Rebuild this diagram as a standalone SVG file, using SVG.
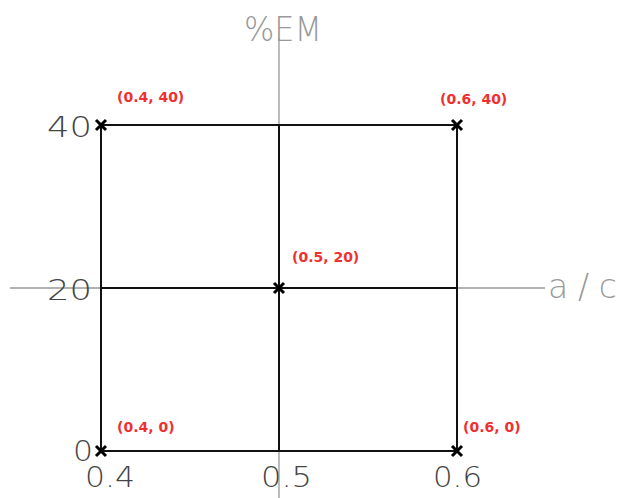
<svg xmlns="http://www.w3.org/2000/svg" width="620" height="498" viewBox="0 0 620 498">
<style>
.axis{stroke:#999;stroke-width:1.3;fill:none}
.grid{stroke:#111;stroke-width:2;fill:none}
.mk{stroke:#000;stroke-width:3;fill:none}
.ax{font-family:"DejaVu Sans",sans-serif;font-size:33px;fill:#999;font-weight:200}
.num{font-family:"DejaVu Sans",sans-serif;font-size:28px;fill:#444;font-weight:200}
.pt{font-family:"DejaVu Sans",sans-serif;font-size:14px;fill:#f03030;font-weight:bold}
</style>
<rect width="620" height="498" fill="#fff"/>
<g id="axes">
<line class="axis" x1="279" y1="38" x2="279" y2="498"/>
<line class="axis" x1="10" y1="288" x2="545" y2="288"/>
</g>
<g id="connectors">
<rect class="grid" x="101" y="125" width="356" height="326"/>
<line class="grid" x1="279" y1="125" x2="279" y2="451"/>
<line class="grid" x1="101" y1="288" x2="457" y2="288"/>
</g>
<g id="marks">
<path class="mk" d="M96 120l10 10M106 120l-10 10"/>
<path class="mk" d="M452 120l10 10M462 120l-10 10"/>
<path class="mk" d="M274 283l10 10M284 283l-10 10"/>
<path class="mk" d="M96 446l10 10M106 446l-10 10"/>
<path class="mk" d="M452 446l10 10M462 446l-10 10"/>
</g>
<g id="axis-labels">
<text class="ax" x="244" y="41" textLength="78" lengthAdjust="spacingAndGlyphs">%EM</text>
<text class="ax" x="548" y="298" textLength="69" lengthAdjust="spacing">a/c</text>
<text class="num" x="47" y="137" textLength="45" lengthAdjust="spacingAndGlyphs">40</text>
<text class="num" x="47" y="300" textLength="45" lengthAdjust="spacingAndGlyphs">20</text>
<text class="num" x="73" y="461" textLength="20" lengthAdjust="spacingAndGlyphs">0</text>
<text class="num" x="85" y="487" textLength="50" lengthAdjust="spacingAndGlyphs">0.4</text>
<text class="num" x="261" y="487" textLength="51" lengthAdjust="spacingAndGlyphs">0.5</text>
<text class="num" x="433" y="487" textLength="49" lengthAdjust="spacingAndGlyphs">0.6</text>
</g>
<g id="point-labels">
<text class="pt" x="117" y="102">(0.4, 40)</text>
<text class="pt" x="440" y="104">(0.6, 40)</text>
<text class="pt" x="292" y="262">(0.5, 20)</text>
<text class="pt" x="117" y="432">(0.4, 0)</text>
<text class="pt" x="463" y="432">(0.6, 0)</text>
</g>
</svg>
